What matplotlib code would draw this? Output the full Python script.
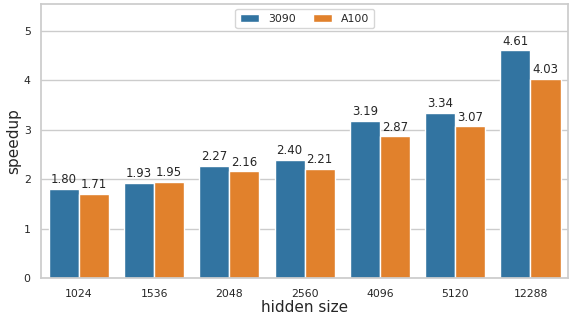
import matplotlib
matplotlib.use("Agg")
import matplotlib.pyplot as plt
import seaborn as sns
import pandas as pd

hidden_sizes = ["1024", "1536", "2048", "2560", "4096", "5120", "12288"]
speedup_3090 = [1.80, 1.93, 2.27, 2.40, 3.19, 3.34, 4.61]
speedup_a100 = [1.71, 1.95, 2.16, 2.21, 2.87, 3.07, 4.03]
gpus = ["3090", "A100"]

sns.set_theme(style="whitegrid")
plt.rcParams['font.family'] = ['DejaVu Sans']

df = pd.DataFrame({
    "hidden size": hidden_sizes * 2,
    "speedup": speedup_3090 + speedup_a100,
    "gpu": [gpus[0]] * len(hidden_sizes) + [gpus[1]] * len(hidden_sizes),
})

fig, ax = plt.subplots(figsize=(5.71, 3.18), dpi=100)
sns.barplot(data=df, x="hidden size", y="speedup", hue="gpu",
            palette=["#1f77b4", "#ff7f0e"], ax=ax)
for c in ax.containers:
    ax.bar_label(c, fmt="%.2f", fontsize=8.5, padding=2, color="#262626")
ax.set_ylim(0, 5.55)
ax.tick_params(axis="both", labelsize=7.8, pad=1.5)
ax.set_xlabel("hidden size", fontsize=11, labelpad=1)
ax.set_ylabel("speedup", fontsize=11, labelpad=1.5)
ax.legend(loc="upper center", ncol=2, fontsize=7.8, title=None,
          handlelength=1.8, columnspacing=1.6)
fig.subplots_adjust(left=0.072, right=0.995, top=0.988, bottom=0.125)
fig.savefig("out.png", dpi=100)
